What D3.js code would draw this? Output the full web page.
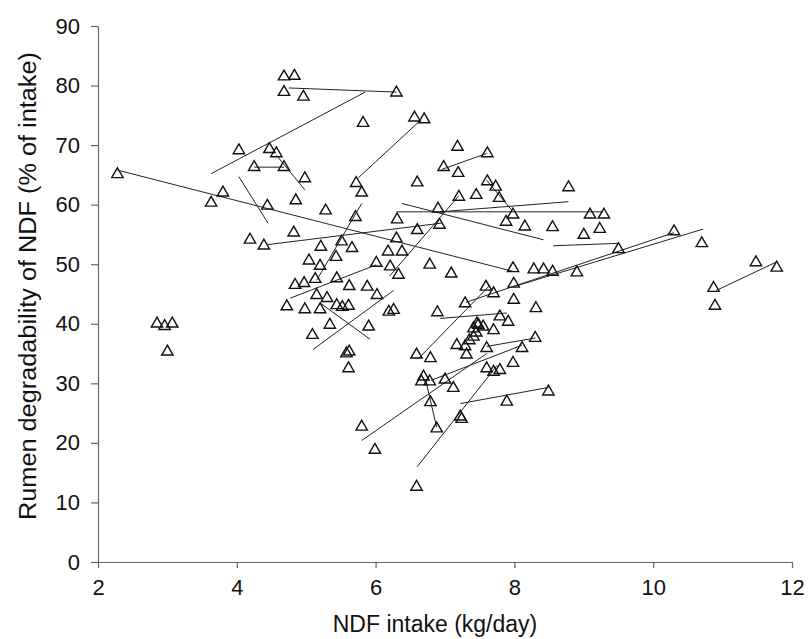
<!DOCTYPE html>
<html>
<head>
<meta charset="utf-8">
<script src="https://cdn.jsdelivr.net/npm/d3@7/dist/d3.min.js"></script>
<style>
  body { margin: 0; background: #fff; }
  svg { display: block; font-family: "Liberation Sans", Arial, sans-serif; }
  .axis text { font-size: 22px; fill: #111; }
  .axis path, .axis line { stroke: #666; stroke-width: 1.2; }
  .title { font-size: 23px; fill: #111; }
</style>
</head>
<body>
<svg id="thesvg" width="808" height="639"></svg>
<script>
'use strict';

// NDF intake (kg/day) of each observation
let intake = [
  2.28, 2.85, 2.96, 3.07, 3.00, 3.63, 3.80, 4.03, 4.25, 4.47,
  4.57, 4.68, 4.98, 4.44, 4.85, 5.28, 4.68, 4.83, 4.68, 4.96,
  4.19, 4.39, 4.82, 5.82, 6.30, 6.56, 6.70, 5.72, 5.80, 5.21,
  5.71, 5.04, 5.20, 5.43, 5.51, 5.66, 6.18, 6.01, 4.84, 4.97,
  5.13, 5.44, 5.62, 5.88, 6.02, 4.72, 4.98, 5.20, 5.15, 5.30,
  5.44, 5.61, 5.52, 5.34, 5.90, 5.09, 5.62, 5.58, 5.61, 6.19,
  7.18, 7.61, 6.98, 7.19, 6.60, 7.61, 7.73, 7.78, 7.45, 7.20,
  8.78, 6.90, 6.31, 6.92, 7.88, 7.98, 8.15, 8.55, 9.09, 9.29,
  9.23, 9.00, 9.50, 6.60, 6.30, 6.38, 6.21, 6.33, 6.78, 7.09,
  7.98, 8.28, 8.42, 8.55, 8.90, 7.99, 7.99, 8.31, 6.26, 6.89,
  7.59, 7.70, 7.29, 7.79, 7.91, 7.46, 10.30, 10.70, 11.48, 11.78,
  10.87, 10.89, 7.41, 7.48, 7.55, 7.70, 7.41, 7.17, 7.29, 7.31,
  7.60, 8.30, 8.11, 7.98, 7.79, 7.60, 7.70, 6.59, 6.79, 6.69,
  6.78, 6.66, 7.00, 7.12, 6.79, 6.88, 7.89, 8.49, 7.22, 7.24,
  5.80, 5.99, 6.59, 7.35, 7.45
];

// rumen degradability of NDF (% of intake), same order
let degradability = [
  65.1, 40.0, 39.6, 40.0, 35.3, 60.3, 62.0, 69.1, 66.3, 69.3,
  68.6, 66.3, 64.4, 59.8, 60.7, 59.0, 81.5, 81.6, 78.9, 78.1,
  54.1, 53.1, 55.3, 73.7, 78.8, 74.6, 74.3, 63.6, 62.0, 52.9,
  57.9, 50.6, 49.7, 51.2, 53.8, 52.7, 52.1, 50.2, 46.5, 46.8,
  47.5, 47.6, 46.3, 46.2, 44.8, 42.9, 42.4, 42.4, 44.8, 44.3,
  43.1, 43.0, 42.8, 39.8, 39.5, 38.1, 35.3, 35.0, 32.5, 42.0,
  69.7, 68.6, 66.3, 65.3, 63.7, 63.9, 63.0, 61.1, 61.6, 61.3,
  62.9, 59.3, 57.5, 56.6, 57.1, 58.3, 56.3, 56.2, 58.3, 58.3,
  55.9, 54.9, 52.5, 55.7, 54.3, 52.1, 49.6, 48.2, 49.9, 48.4,
  49.3, 49.1, 49.1, 48.7, 48.6, 46.7, 44.0, 42.6, 42.3, 41.9,
  46.2, 45.1, 43.4, 41.2, 40.3, 40.0, 55.5, 53.5, 50.3, 49.4,
  46.0, 43.0, 39.2, 39.8, 39.5, 38.9, 37.8, 36.4, 36.2, 34.8,
  35.9, 37.6, 35.9, 33.4, 32.2, 32.5, 31.9, 34.8, 34.2, 31.1,
  30.3, 30.3, 30.6, 29.2, 26.8, 22.4, 26.9, 28.6, 24.4, 24.0,
  22.7, 18.8, 12.6, 37.2, 38.5
];

// within-study regression lines: start and end points
let lineX1 = [2.28, 3.63, 4.75, 4.03, 4.25, 4.57, 5.75, 4.45, 6.30, 6.38,
              6.93, 6.95, 7.60, 8.56, 7.30, 7.98, 10.91, 6.20, 5.15, 4.77,
              5.20, 5.10, 6.62, 6.93, 5.80, 6.60, 7.22, 6.80, 7.60, 6.72];
let lineY1 = [65.8, 65.2, 79.6, 64.7, 66.3, 68.3, 64.5, 53.3, 58.8, 60.2,
              58.8, 65.9, 64.1, 53.1, 43.6, 46.2, 45.6, 48.0, 47.3, 44.3,
              43.5, 35.7, 34.2, 40.9, 20.4, 16.0, 26.6, 30.5, 36.2, 30.6];
let lineX2 = [7.98, 5.85, 6.30, 4.45, 4.68, 4.98, 6.65, 6.95, 9.28, 8.42,
              8.78, 7.60, 7.96, 9.50, 10.30, 10.72, 11.78, 7.20, 5.80, 6.01,
              5.92, 6.26, 7.65, 7.89, 7.60, 7.75, 8.49, 8.11, 8.30, 6.88];
let lineY2 = [48.8, 78.9, 78.9, 56.9, 66.3, 62.5, 74.2, 56.9, 58.8, 54.1,
              60.5, 68.6, 59.1, 53.5, 55.3, 55.9, 50.4, 61.5, 60.2, 49.9,
              37.4, 45.6, 46.5, 41.8, 35.0, 33.0, 29.3, 36.4, 37.6, 22.6];

let xTicks = [2, 4, 6, 8, 10, 12],
    yTicks = [0, 10, 20, 30, 40, 50, 60, 70, 80, 90];

var svg = d3.select("#thesvg"),
    margin = {top: 26, right: 16, bottom: 77, left: 98},
    width = svg.attr("width") - margin.left - margin.right,
    height = svg.attr("height") - margin.top - margin.bottom,
    x = d3.scaleLinear().domain([2, 12]).range([0, width]),
    y = d3.scaleLinear().domain([0, 90]).range([height, 0]);

let g = svg.append("g")
    .attr("transform", "translate(" + margin.left + "," + margin.top + ")");

g.append("g")
    .attr("class", "axis")
    .attr("transform", "translate(0," + height + ")")
    .call(d3.axisBottom(x).tickValues(xTicks).tickSize(6).tickSizeOuter(0).tickPadding(11));

g.append("g")
    .attr("class", "axis")
    .call(d3.axisLeft(y).tickValues(yTicks).tickSize(7).tickSizeOuter(0).tickPadding(11));

// regression lines under the markers
g.selectAll(".fit")
    .data(lineX1.map(function(d, i) { return i; }))
  .enter().append("line")
    .attr("class", "fit")
    .attr("x1", function(i) { return x(lineX1[i]); })
    .attr("y1", function(i) { return y(lineY1[i]); })
    .attr("x2", function(i) { return x(lineX2[i]); })
    .attr("y2", function(i) { return y(lineY2[i]); })
    .attr("stroke", "#222")
    .attr("stroke-width", 1);

let tri = d3.symbol().type(d3.symbolTriangle).size(56);

g.selectAll(".dot")
    .data(intake.map(function(d, i) { return {x: d, y: degradability[i]}; }))
  .enter().append("path")
    .attr("class", "dot")
    .attr("d", tri)
    .attr("transform", function(d) { return "translate(" + x(d.x) + "," + y(d.y) + ")"; })
    .attr("fill", "none")
    .attr("stroke", "#111")
    .attr("stroke-width", 1.4);

svg.append("text")
    .attr("class", "title")
    .attr("x", 435)
    .attr("y", 632)
    .attr("text-anchor", "middle")
    .text("NDF intake (kg/day)");

// the y title is drawn a little stretched along its length
svg.append("text")
    .attr("class", "title")
    .attr("transform", "translate(36,286) rotate(-90)")
    .attr("text-anchor", "middle")
    .attr("textLength", 468)
    .attr("lengthAdjust", "spacingAndGlyphs")
    .text("Rumen degradability of NDF (% of intake)");
</script>
</body>
</html>
